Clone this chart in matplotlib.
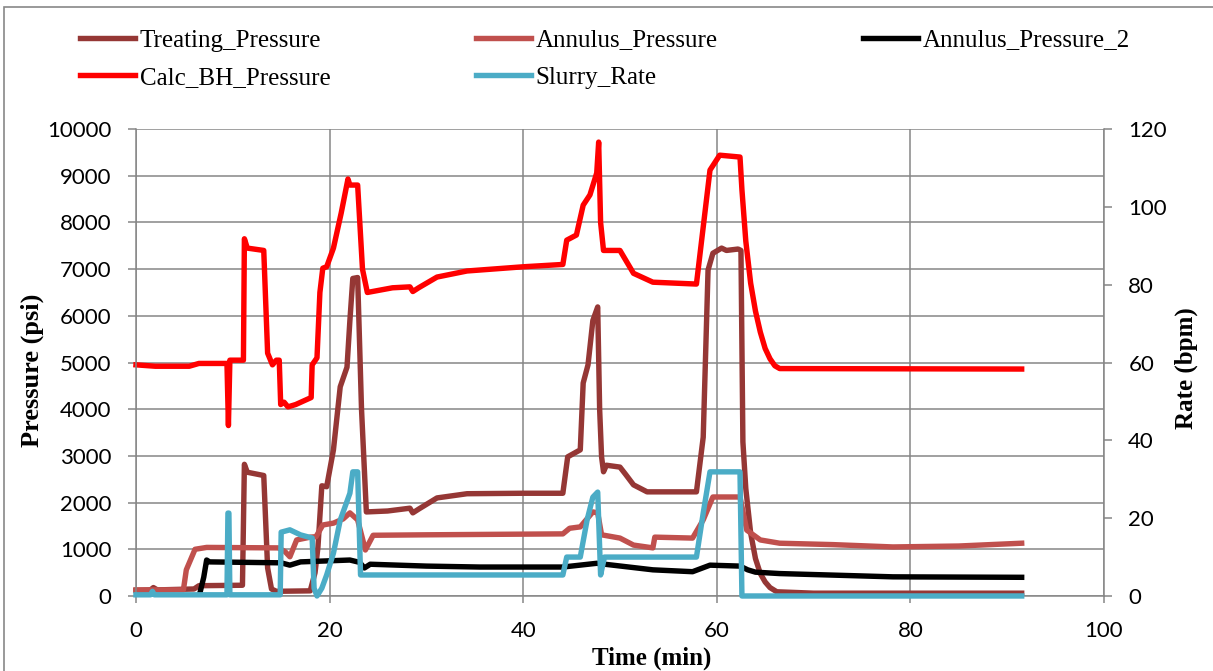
"""Frac treatment plot: pressures on the left axis, slurry rate on the right."""

import matplotlib
matplotlib.use("Agg")

import matplotlib.pyplot as plt
import numpy as np
from matplotlib.patches import Rectangle

plt.rcParams.update({
    "figure.facecolor": "white",
    "axes.facecolor": "white",
    "font.family": "Lato",
})

GRID = "#868686"
SERIF = "Liberation Serif"

# ---- data --------------------------------------------------------------
tp_t = [0, 1.5, 1.8, 2.2, 6.0, 6.5, 11.0, 11.2, 11.5, 13.2, 13.6, 14.0, 14.5,
        18.0, 18.5, 18.8, 19.2, 19.7, 20.4, 21.1, 21.8, 22.1, 22.4, 22.9,
        23.3, 23.8, 26.0, 28.3, 28.6, 29.2, 31.1, 34.2, 40.0, 44.1, 44.6,
        45.9, 46.2, 46.7, 47.2, 47.7, 47.9, 48.1, 48.3, 48.6, 50.0, 50.6,
        51.4, 52.8, 57.9, 58.6, 59.1, 59.6, 60.5, 61.0, 62.2, 62.5, 62.7,
        63.0, 63.5, 64.0, 64.5, 65.0, 65.5, 66.2, 70.0, 91.5]
tp_v = [120, 130, 180, 130, 150, 220, 230, 2820, 2650, 2580, 600, 150, 100,
        110, 500, 1050, 2360, 2340, 3130, 4480, 4900, 5900, 6800, 6820,
        4000, 1800, 1820, 1880, 1780, 1860, 2100, 2190, 2200, 2200, 2980,
        3130, 4560, 4950, 5900, 6190, 4000, 2980, 2660, 2800, 2760, 2600,
        2380, 2230, 2230, 3400, 6980, 7340, 7450, 7400, 7430, 7400, 3300,
        2300, 1350, 800, 480, 300, 180, 90, 60, 60]

ap_t = [0, 4.9, 5.2, 6.1, 7.3, 14.7, 15.4, 15.9, 16.6, 18.0, 18.6, 19.3,
        20.4, 21.4, 22.1, 22.9, 23.7, 24.5, 30.0, 36.9, 44.1, 44.8, 45.9,
        47.2, 47.7, 48.1, 50.0, 51.4, 53.4, 53.6, 57.5, 58.6, 59.6, 62.4,
        63.1, 64.5, 66.5, 72.0, 78.2, 85.0, 91.5]
ap_v = [130, 130, 560, 1000, 1040, 1030, 950, 840, 1200, 1260, 1270, 1520,
        1560, 1650, 1780, 1630, 985, 1300, 1310, 1320, 1330, 1450, 1480,
        1800, 1780, 1310, 1240, 1090, 1030, 1260, 1240, 1630, 2120, 2120,
        1410, 1200, 1130, 1100, 1050, 1070, 1130]

ap2_t = [6.6, 7.0, 7.3, 7.6, 15.0, 15.9, 17.0, 22.1, 23.1, 23.6, 24.2, 30.0,
         35.5, 44.1, 47.6, 53.4, 57.5, 59.3, 62.4, 63.2, 64.0, 66.5, 78.2,
         91.5]
ap2_v = [60, 400, 770, 730, 710, 660, 730, 770, 720, 600, 680, 640,
         620, 620, 700, 560, 520, 660, 640, 560, 510, 480, 410, 400]

bh_t = [0, 2, 5.5, 6.5, 9.4, 9.55, 9.7, 11.1, 11.2, 11.5, 13.2, 13.6, 14.1,
        14.5, 14.8, 14.95, 15.3, 15.7, 16.5, 18.1, 18.2, 18.7, 19.0, 19.3,
        19.7, 20.4, 21.2, 21.9, 22.1, 22.9, 23.4, 23.9, 26.5, 28.3, 28.6,
        29.2, 31.1, 34.2, 40.0, 44.1, 44.5, 45.5, 46.2, 46.9, 47.6, 47.8,
        48.0, 48.3, 50.0, 51.4, 53.4, 57.9, 59.3, 60.3, 62.4, 62.6, 63.0,
        63.5, 64.0, 64.5, 65.0, 65.5, 66.0, 66.5, 91.5]
bh_v = [4950, 4920, 4920, 4980, 4980, 3650, 5050, 5050, 7650, 7450, 7400,
        5200, 4950, 5050, 5050, 4100, 4150, 4050, 4100, 4250, 4950, 5100,
        6500, 7020, 7050, 7450, 8200, 8930, 8800, 8800, 7000, 6500, 6600,
        6620, 6520, 6600, 6830, 6960, 7050, 7100, 7620, 7730, 8370, 8590,
        9060, 9720, 8000, 7400, 7400, 6910, 6720, 6680, 9120, 9440, 9400,
        8700, 7600, 6700, 6100, 5650, 5300, 5080, 4930, 4870, 4860]

sr_t = [0, 1.5, 1.7, 1.9, 9.4, 9.5, 9.6, 9.7, 14.9, 15.0, 15.9, 17.0, 18.2,
        18.4, 18.7, 19.2, 19.7, 20.4, 21.1, 22.1, 22.4, 22.9, 23.2, 44.1,
        44.5, 45.9, 46.6, 47.2, 47.7, 48.0, 48.4, 57.9, 58.6, 59.3, 62.4,
        62.6, 91.5]
sr_v = [0.3, 0.3, 1.2, 0.3, 0.3, 21.3, 21.3, 0.3, 0.3, 16.4, 17.0, 15.7,
        14.9, 2.0, 0.0, 2.0, 5.4, 11.0, 19.5, 26.4, 31.9, 31.9, 5.4, 5.4,
        10.0, 10.0, 19.5, 25.4, 26.7, 5.4, 10.0, 10.0, 21.3, 31.9, 31.9,
        0.0, 0.0]

x_ticks = np.arange(0, 101, 20)
p_ticks = np.arange(0, 10001, 1000)
r_ticks = np.arange(0, 121, 20)

# ---- figure ------------------------------------------------------------
fig = plt.figure(figsize=(12.13, 6.71), dpi=100)
ax = fig.add_axes([0.1121, 0.1118, 0.7980, 0.6959])
ax2 = ax.twinx()

lw = 3.9
h_tp, = ax.plot(tp_t, tp_v, color="#953735", lw=lw, label="Treating_Pressure",
                solid_joinstyle="round", clip_on=False)
h_ap, = ax.plot(ap_t, ap_v, color="#C0504D", lw=lw, label="Annulus_Pressure",
                solid_joinstyle="round", clip_on=False)
h_ap2, = ax.plot(ap2_t, ap2_v, color="black", lw=lw, label="Annulus_Pressure_2",
                 solid_joinstyle="round", clip_on=False)
h_bh, = ax.plot(bh_t, bh_v, color="#FF0000", lw=lw, label="Calc_BH_Pressure",
                solid_joinstyle="round", clip_on=False)
h_sr, = ax2.plot(sr_t, sr_v, color="#4BACC6", lw=lw, label="Slurry_Rate",
                 solid_joinstyle="round", clip_on=False)

ax.set_xlim(0, 100)
ax.set_ylim(0, 10000)
ax2.set_ylim(0, 120)
ax.set_xticks(x_ticks)
ax.set_yticks(p_ticks)
ax2.set_yticks(r_ticks)

ax.set_axisbelow(True)
ax.grid(True, color=GRID, lw=1.1)
for s in ["top", "right"]:
    ax.spines[s].set_visible(False)
for s in ["top", "left", "bottom"]:
    ax2.spines[s].set_visible(False)
for sp in [ax.spines["left"], ax.spines["bottom"], ax2.spines["right"]]:
    sp.set_color(GRID)
    sp.set_linewidth(1.1)

ax.tick_params(axis="y", direction="out", length=5.5, width=1.1, color=GRID,
               pad=12, labelsize=16)
ax.tick_params(axis="x", direction="out", length=5, width=1.1, color=GRID,
               pad=13, labelsize=16)
ax2.tick_params(axis="y", direction="out", length=5.5, width=1.1, color=GRID,
                pad=12, labelsize=16)

ax.set_xlabel("Time (min)", family=SERIF, fontsize=18, fontweight="bold")
ax.xaxis.set_label_coords(0.533, -0.133)
ax.xaxis.label.set_va("center")
ax.set_ylabel("Pressure (psi)", family=SERIF, fontsize=19, fontweight="bold")
ax.yaxis.set_label_coords(-0.107, 0.484)
ax.yaxis.label.set_va("center")
ax2.set_ylabel("Rate (bpm)", family=SERIF, fontsize=18, fontweight="bold",
               rotation=90)
ax2.yaxis.set_label_coords(1.085, 0.488)
ax2.yaxis.label.set_va("center")

fig.legend(handles=[h_tp, h_bh, h_ap, h_sr, h_ap2], ncol=3,
           loc="upper left", bbox_to_anchor=(80 / 1213, 1 - 29 / 671),
           frameon=False, borderpad=0, borderaxespad=0,
           handlelength=2.2, handletextpad=0.2, columnspacing=5.8,
           labelspacing=0.6, prop={"family": SERIF, "size": 18})

# outer chart-area border
fig.patches.append(Rectangle((3.5 / 1213, -0.05), 1.2, 1.05 - 7 / 671,
                             transform=fig.transFigure, fill=False,
                             ec="#888888", lw=1.2))

fig.savefig("out.png", dpi=100)
